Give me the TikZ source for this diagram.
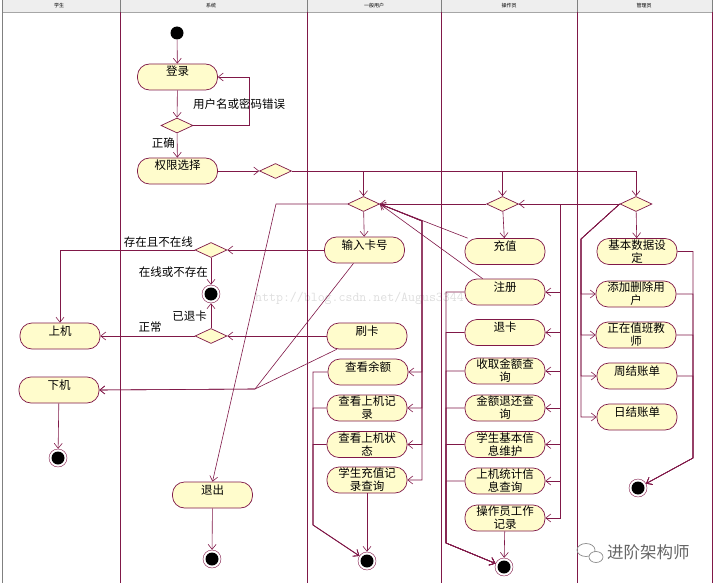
\documentclass[tikz,border=0pt]{standalone}
\usepackage{fontspec}
\setmainfont{Noto Sans CJK SC}
\usetikzlibrary{arrows.meta,shapes.geometric}
\definecolor{lane}{RGB}{128,24,72}
\definecolor{actfill}{RGB}{255,252,204}
\definecolor{hdr}{RGB}{238,238,238}

\begin{document}
\begin{tikzpicture}[x=1pt,y=-1pt,
  every node/.style={font=\fontsize{11.5}{13}\selectfont},
  act/.style={draw=lane,fill=actfill,line width=0.7pt,rounded corners=12pt,
    minimum width=80pt,minimum height=26pt,inner sep=1pt,align=center},
  onel/.style={text height=9pt,text depth=11pt},
  dec/.style={diamond,draw=lane,fill=actfill,line width=0.7pt,
    minimum width=32pt,minimum height=15pt,inner sep=0pt},
  ini/.style={circle,fill=black,minimum size=13pt,inner sep=0pt},
  fin/.style={circle,draw=lane,fill=white,minimum size=18pt,inner sep=0pt,
    path picture={\fill[black] (path picture bounding box.center) circle (6.5pt);}},
  flow/.style={draw=lane,line width=0.6pt,-{Straight Barb[length=5pt,width=8pt]}},
  lbl/.style={inner sep=1pt}]
\useasboundingbox (0,0) rectangle (715,583);
\fill[white] (0,0) rectangle (715,583);
% swimlanes
\fill[hdr] (3,0) rectangle (712,12);
\draw[gray] (2.5,0) -- (2.5,583);
\draw[gray!70] (3,12.5) -- (712,12.5);
\foreach \x in {120,307,441,577,712} {
  \draw[gray] (\x,0) -- (\x,12);
  \draw[lane,line width=0.7pt] (\x,12) -- (\x,583);
}
\foreach \x/\t in {59/学生,211/系统,374/一般用户,509/操作员,644/管理员}
  \node[font=\fontsize{5}{6}\selectfont] (h\x) at (\x,6) {\t};

% system
\node[ini] (start) at (177,33) {};
\node[act,onel] (login) at (177.5,77) {登录};
\node[dec] (d1) at (177,125.5) {};
\node[act,onel] (role) at (177.5,171) {权限选择};
\node[dec] (d2) at (275.5,171) {};
\node[dec] (dE) at (211,250) {};
\node[fin] (e2) at (211,294) {};
\node[dec] (dQ) at (211,336) {};
\node[act,onel] (quit) at (212.5,495) {退出};
\node[fin] (e3) at (212,559) {};

% student
\node[act,onel] (on) at (60,336) {上机};
\node[act,onel] (off) at (59,390) {下机};
\node[fin] (e1) at (58,458) {};

% user
\node[dec] (dU) at (363.5,204) {};
\node[act,onel] (card) at (364.5,250) {输入卡号};
\node[act,onel] (swipe) at (367,336) {刷卡};
\node[act,onel] (bal) at (368,372) {查看余额};
\node[act] (rec) at (367,408) {查看上机记\\录};
\node[act] (stat) at (367,444.5) {查看上机状\\态};
\node[act] (chg) at (367,480) {学生充值记\\录查询};
\node[fin] (e4) at (367,561) {};

% operator
\node[dec] (dO) at (502.5,204) {};
\node[act,onel] (charge) at (505,251.5) {充值};
\node[act,onel] (reg) at (505,292) {注册};
\node[act,onel] (ret) at (505,332.5) {退卡};
\node[act] (fee) at (505,371) {收取金额查\\询};
\node[act] (refund) at (505,408) {金额退还查\\询};
\node[act] (info) at (505,444.5) {学生基本信\\息维护};
\node[act] (stats) at (505,481) {上机统计信\\息查询};
\node[act] (work) at (505,518) {操作员工作\\记录};
\node[fin] (e5) at (504,567) {};

% admin
\node[dec] (dA) at (636,204) {};
\node[act] (base) at (637,251.5) {基本数据设\\定};
\node[act] (adduser) at (636,294) {添加删除用\\户};
\node[act] (duty) at (636,335) {正在值班教\\师};
\node[act,onel] (week) at (637,376) {周结账单};
\node[act,onel] (day) at (637,417) {日结账单};
\node[fin] (e6) at (638,488) {};

% bend points
\coordinate (lp) at (249,77);
\coordinate (qb) at (276,204);
\coordinate (om) at (255,389);
\coordinate (uv) at (422,221);
\coordinate (ul) at (313,525);
\coordinate (ov) at (560,204);
\coordinate (ol) at (446,543);
\coordinate (al) at (581,239);
\coordinate (ar) at (693,458);

% flows
\draw[flow] (start) -- (login);
\draw[flow] (login) -- (d1);
\draw[flow] (d1.east) -| (lp) -- (login.east);
\draw[flow] (d1) -- (role);
\draw[flow] (role) -- (d2);
\draw[flow] (d2.east) -| (dU.north);
\draw[flow] (d2.east) -| (dO.north);
\draw[flow] (d2.east) -| (dA.north);
\draw[flow] (dU) -- (card);
\draw[flow] (dU.west) -- (qb) -- (quit.north);
\draw[flow] (dO.west) -- (dU.east);
\draw[flow] (dA.west) -- (dO.east);
\draw[flow] ([xshift=3pt]charge.north west) -- (dU.east);
\draw[flow] ([xshift=18pt]reg.north west) -- (dU.east);
\foreach \n in {bal,rec,stat,chg} \draw[flow] (dU.east) -- (uv) |- (\n.east);
\draw[flow] (card.west) -- (dE.east);
\draw[flow] (dE.west) -| (on.north);
\draw[flow] (dE) -- (e2);
\draw[flow] (swipe.west) -- (dQ.east);
\draw[flow] (dQ) -- (e2);
\draw[flow] (dQ.west) -- (on.east);
\draw[flow] ([xshift=-11pt]card.south) -- (om) -- (off.east);
\draw[flow] ([xshift=10pt]swipe.south west) -- (om) -- (off.east);
\draw[flow] (off) -- (e1);
\draw[flow] (quit) -- (e3);
\foreach \n in {bal,rec,stat} \draw[flow] (\n.west) -| (ul) -- (e4);
\draw[flow] (chg) -- (e4);
\draw[flow] (dO) -- (charge);
\foreach \n in {reg,ret,fee,refund,info,stats,work} \draw[flow] (dO.east) -- (ov) |- (\n.east);
\foreach \n in {reg,ret,fee,refund,info,stats} \draw[flow] (\n.west) -| (ol) -- (e5);
\draw[flow] (work) -- (e5);
\draw[flow] (dA) -- (base);
\foreach \n in {adduser,duty,week,day} \draw[flow] (dA.west) -- (al) |- (\n.west);
\foreach \n in {base,adduser,duty,week} \draw[flow] (\n.east) -| (ar) -- (e6);

% guard labels
\node[lbl,anchor=west] (tErr) at (192,104) {用户名或密码错误};
\node[lbl,anchor=east] (tOk) at (176,143) {正确};
\node[lbl,anchor=east] (tIn) at (194,242) {存在且不在线};
\node[lbl,anchor=east] (tOff) at (209,272) {在线或不存在};
\node[lbl,anchor=east] (tRet) at (208,316) {已退卡};
\node[lbl] (tNorm) at (150,327) {正常};

% watermarks
\node[font=\ttfamily\fontsize{13.5}{14}\selectfont,text=black,opacity=0.13,anchor=west,inner sep=0pt] (wm) at (255,298) {http://blog.csdn.net/Augus3344};
\draw[black!45,line width=0.7pt] (586,550) ellipse (9pt and 6.5pt);
\draw[black!45,fill=white,line width=0.7pt] (596,557) ellipse (7pt and 5.5pt);
\node[font=\fontsize{16.5}{18}\selectfont,text=black!60,anchor=west,inner sep=0pt] (wx) at (607,552) {进阶架构师};
\end{tikzpicture}
\end{document}
